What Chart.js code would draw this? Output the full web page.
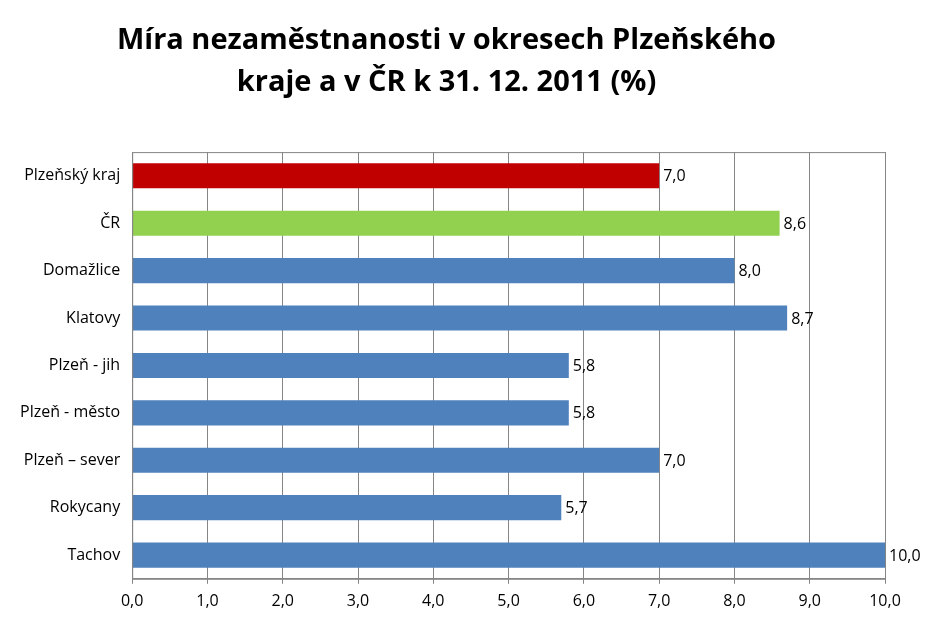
<!DOCTYPE html>
<html><head><meta charset="utf-8">
<script src="https://cdn.jsdelivr.net/npm/chart.js@4"></script>
<style>html,body{margin:0;padding:0;background:#fff}#w{width:931px;height:629px}</style>
</head><body><div id="w"><canvas id="c"></canvas></div>
<script>
const categories = ["Plzeňský kraj","ČR","Domažlice","Klatovy","Plzeň - jih","Plzeň - město","Plzeň – sever","Rokycany","Tachov"];
const values = [7.0,8.6,8.0,8.7,5.8,5.8,7.0,5.7,10.0];
const colors = ["#C00000","#92D050","#4F81BD","#4F81BD","#4F81BD","#4F81BD","#4F81BD","#4F81BD","#4F81BD"];
const fmt = v => v.toFixed(1).replace('.', ',');
const labelPlugin = {
  id:'lbl',
  afterDatasetsDraw(chart){
    const ctx=chart.ctx, meta=chart.getDatasetMeta(0);
    ctx.save();ctx.font='16px "Open Sans", sans-serif';ctx.fillStyle='#000';ctx.textBaseline='middle';ctx.textAlign='left';
    meta.data.forEach((b,i)=>ctx.fillText(fmt(values[i]), b.x+4, b.y+1));
    ctx.restore();
  }
};
new Chart(document.getElementById('c'),{
  type:'bar',
  data:{labels:categories,datasets:[{data:values,backgroundColor:colors,categoryPercentage:0.53,barPercentage:1}]},
  options:{
    indexAxis:'y',responsive:true,maintainAspectRatio:false,animation:false,
    layout:{padding:{left:8,right:46,top:0,bottom:10}},
    plugins:{legend:{display:false},tooltip:{enabled:false},
      title:{display:true,text:['Míra nezaměstnanosti v okresech Plzeňského','kraje a v ČR k 31. 12. 2011 (%)'],color:'#000',
        font:{family:'"Open Sans", sans-serif',size:29,weight:'bold',lineHeight:1.45},padding:{top:20,bottom:48}}},
    scales:{
      x:{min:0,max:10,ticks:{stepSize:1,color:'#000',font:{family:'"Open Sans", sans-serif',size:16},callback:v=>fmt(v),padding:8},
        grid:{color:'#868686',drawTicks:true,tickLength:5},border:{color:'#868686'}},
      y:{ticks:{color:'#000',font:{family:'"Open Sans", sans-serif',size:16},padding:12},
        grid:{display:false,drawTicks:false},border:{color:'#868686'}}
    }
  },
  plugins:[labelPlugin,{id:'box',afterDraw(ch){const a=ch.chartArea,c=ch.ctx;c.save();c.strokeStyle='#868686';c.lineWidth=1;c.strokeRect(a.left+.5,a.top+.5,a.right-a.left,a.bottom-a.top);c.restore();}}]
});
</script></body></html>
